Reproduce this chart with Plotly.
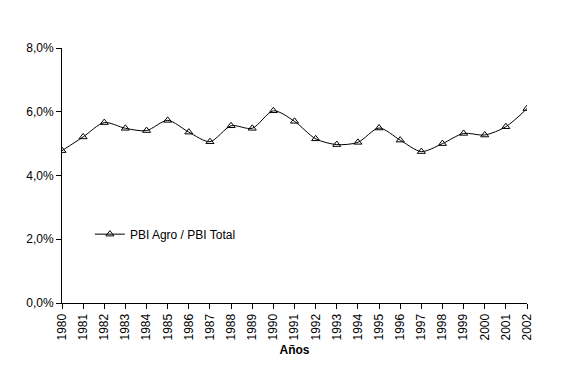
import plotly.graph_objects as go

years = list(range(1980, 2003))
pbi_ratio = [4.78, 5.21, 5.66, 5.48, 5.41, 5.73, 5.36, 5.06, 5.56, 5.48, 6.03, 5.70,
             5.15, 4.97, 5.04, 5.49, 5.11, 4.75, 5.00, 5.32, 5.27, 5.53, 6.10]
values = [v / 100 for v in pbi_ratio]
y_ticks = [0, 0.02, 0.04, 0.06, 0.08]

fig = go.Figure()
fig.add_trace(go.Scatter(
    x=years, y=values, mode="lines+markers", name="PBI Agro / PBI Total",
    line=dict(color="black", width=1, shape="spline", smoothing=0.8),
    marker=dict(symbol="triangle-up-open", size=7, color="black", line=dict(width=1, color="black")),
))

fig.update_layout(
    width=558, height=372,
    margin=dict(l=54, r=39, t=40, b=77),
    paper_bgcolor="white", plot_bgcolor="white",
    separators=",.",
    font=dict(family="Liberation Sans, Arial, sans-serif", size=12, color="black"),
    showlegend=True,
    legend=dict(x=0.06, y=0.27, xanchor="left", yanchor="middle",
                bgcolor="rgba(0,0,0,0)", font=dict(size=12), itemwidth=30),
    xaxis=dict(
        range=[1980, 2002], tickmode="array", tickvals=years, ticktext=[str(y) for y in years],
        tickangle=-90, showgrid=False, zeroline=False, showline=True, linecolor="black",
        linewidth=1, ticks="outside", ticklen=5, tickcolor="black",
        title=dict(text="<b>Años</b>", font=dict(size=12), standoff=6),
    ),
    yaxis=dict(
        range=[0, 0.08], tickmode="array", tickvals=y_ticks, tickformat=".1%",
        showgrid=False, zeroline=False, showline=True, linecolor="black", linewidth=1,
        ticks="outside", ticklen=5, tickcolor="black",
    ),
)

fig.write_html("out.html")
